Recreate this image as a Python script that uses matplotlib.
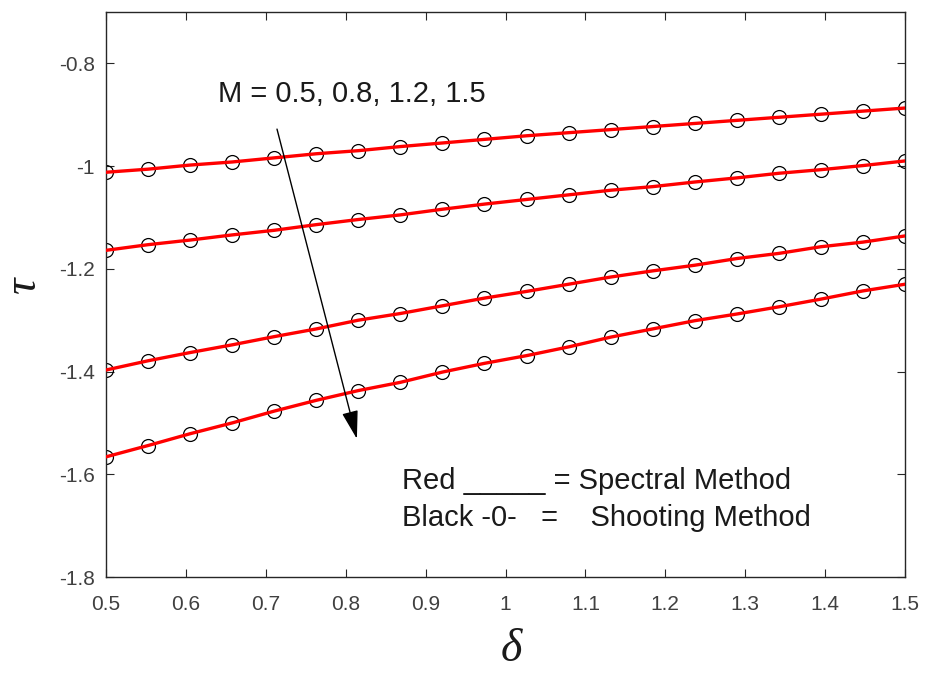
import numpy as np
import matplotlib
matplotlib.use("Agg")
import matplotlib.pyplot as plt

plt.rcParams['font.family'] = ['Liberation Sans', 'DejaVu Sans']

delta = np.linspace(0.5, 1.5, 20)

tau_M05 = [-1.012, -1.006, -0.998, -0.992, -0.984, -0.976, -0.970, -0.962, -0.955, -0.948,
           -0.941, -0.935, -0.929, -0.923, -0.917, -0.911, -0.905, -0.899, -0.893, -0.887]
tau_M08 = [-1.164, -1.153, -1.144, -1.134, -1.125, -1.114, -1.104, -1.095, -1.084, -1.074,
           -1.065, -1.056, -1.047, -1.040, -1.031, -1.023, -1.014, -1.007, -0.999, -0.990]
tau_M12 = [-1.397, -1.379, -1.363, -1.348, -1.332, -1.317, -1.300, -1.287, -1.272, -1.257,
           -1.244, -1.230, -1.216, -1.204, -1.193, -1.180, -1.170, -1.157, -1.148, -1.136]
tau_M15 = [-1.566, -1.544, -1.521, -1.500, -1.477, -1.456, -1.437, -1.421, -1.401, -1.384,
           -1.369, -1.352, -1.333, -1.317, -1.301, -1.288, -1.274, -1.259, -1.243, -1.230]
series = [tau_M05, tau_M08, tau_M12, tau_M15]

xticks = [0.5, 0.6, 0.7, 0.8, 0.9, 1.0, 1.1, 1.2, 1.3, 1.4, 1.5]
xticklabels = ['0.5', '0.6', '0.7', '0.8', '0.9', '1', '1.1', '1.2', '1.3', '1.4', '1.5']
yticks = [-1.8, -1.6, -1.4, -1.2, -1.0, -0.8]
yticklabels = ['-1.8', '-1.6', '-1.4', '-1.2', '-1', '-0.8']

fig = plt.figure(figsize=(9.26, 6.73), dpi=100)
ax = fig.add_axes([0.1145, 0.1426, 0.8628, 0.8396])

for s in series:
    ax.plot(delta, s, linestyle='none', marker='o', markersize=10, markerfacecolor='none',
            markeredgecolor='black', markeredgewidth=0.9, zorder=2)
    ax.plot(delta, s, color='#ff0000', linewidth=2.4, zorder=3)

ax.set_xlim(0.5, 1.5)
ax.set_ylim(-1.8, -0.7)
ax.set_xticks(xticks)
ax.set_xticklabels(xticklabels)
ax.set_yticks(yticks)
ax.set_yticklabels(yticklabels)
ax.tick_params(direction='in', length=6, width=0.8, top=True, right=True,
               labelsize=15, colors='#262626', labelcolor='#404040')
ax.tick_params(axis='x', pad=13)
ax.tick_params(axis='y', pad=8)
for sp in ax.spines.values():
    sp.set_color('#262626')
    sp.set_linewidth(1.0)

fig.text(511 / 926, 1 - 650 / 673, 'δ', family='Liberation Serif', style='italic',
         fontsize=33, ha='center', va='center', color='#1a1a1a')
fig.text(24 / 926, 1 - 285 / 673, 'τ', family='Liberation Serif', style='italic',
         fontsize=33, ha='center', va='center', rotation=90, color='#1a1a1a')

ax.annotate('', xy=(0.814, -1.531), xytext=(0.714, -0.928),
            arrowprops=dict(arrowstyle='-|>,head_length=0.7,head_width=0.2', color='black', lw=1.0,
                            mutation_scale=25, shrinkA=0, shrinkB=0))
ax.text(0.640, -0.86, 'M = 0.5, 0.8, 1.2, 1.5', fontsize=21, color='#1a1a1a', va='center', ha='left')
ax.text(0.870, -1.614, 'Red _____ = Spectral Method', fontsize=21, color='#1a1a1a', va='center', ha='left')
ax.text(0.870, -1.685, 'Black -0-   =    Shooting Method', fontsize=21, color='#1a1a1a', va='center', ha='left')

fig.savefig('out.png', dpi=100, facecolor='white')
